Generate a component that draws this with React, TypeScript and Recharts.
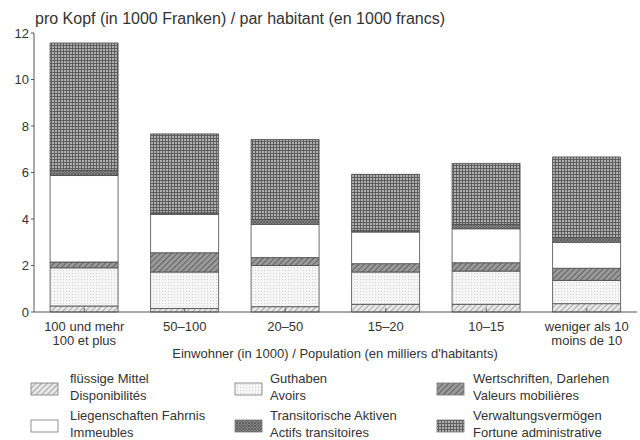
import React from "react";
import { BarChart, Bar, XAxis, YAxis } from "recharts";

const catLine1 = ["100 und mehr", "50–100", "20–50", "15–20", "10–15", "weniger als 10"];
const catLine2 = ["100 et plus", "", "", "", "", "moins de 10"];

const fluessig = [0.26, 0.15, 0.23, 0.33, 0.33, 0.36];
const guthaben = [1.64, 1.57, 1.77, 1.39, 1.43, 1.0];
const wertschriften = [0.25, 0.83, 0.34, 0.36, 0.36, 0.52];
const liegenschaften = [3.72, 1.65, 1.43, 1.36, 1.46, 1.12];
const transitorisch = [0.22, 0.07, 0.21, 0.06, 0.19, 0.2];
const verwaltung = [5.48, 3.39, 3.44, 2.42, 2.62, 3.47];

const yTicks = [0, 2, 4, 6, 8, 10, 12];

const seriesKeys = ["fluessig", "guthaben", "wertschriften", "liegenschaften", "transitorisch", "verwaltung"];
const seriesFill: Record<string, string> = {
  fluessig: "url(#pFluessig)",
  guthaben: "url(#pGuthaben)",
  wertschriften: "url(#pWert)",
  liegenschaften: "#ffffff",
  transitorisch: "url(#pTrans)",
  verwaltung: "url(#pVerw)",
};

const legendItems = [
  { key: "fluessig", l1: "flüssige Mittel", l2: "Disponibilités", col: 0, row: 0 },
  { key: "guthaben", l1: "Guthaben", l2: "Avoirs", col: 1, row: 0 },
  { key: "wertschriften", l1: "Wertschriften, Darlehen", l2: "Valeurs mobilières", col: 2, row: 0 },
  { key: "liegenschaften", l1: "Liegenschaften Fahrnis", l2: "Immeubles", col: 0, row: 1 },
  { key: "transitorisch", l1: "Transitorische Aktiven", l2: "Actifs transitoires", col: 1, row: 1 },
  { key: "verwaltung", l1: "Verwaltungsvermögen", l2: "Fortune administrative", col: 2, row: 1 },
];

const data = catLine1.map((c, i) => ({
  cat: c,
  idx: i,
  fluessig: fluessig[i],
  guthaben: guthaben[i],
  wertschriften: wertschriften[i],
  liegenschaften: liegenschaften[i],
  transitorisch: transitorisch[i],
  verwaltung: verwaltung[i],
}));

const FONT = "'Liberation Sans', Arial, sans-serif";
const TEXT = "#333";

const Patterns = () => (
  <svg width={0} height={0} style={{ position: "absolute" }}>
    <defs>
      <pattern id="pFluessig" width={4} height={4} patternUnits="userSpaceOnUse" patternTransform="rotate(45)">
        <rect width={4} height={4} fill="#e8e8e8" />
        <line x1={0} y1={0} x2={0} y2={4} stroke="#7a7a7a" strokeWidth={1.2} />
      </pattern>
      <pattern id="pGuthaben" width={3} height={3} patternUnits="userSpaceOnUse">
        <rect width={3} height={3} fill="#f6f6f6" />
        <rect x={0} y={0} width={1} height={1} fill="#cfcfcf" />
      </pattern>
      <pattern id="pWert" width={4} height={4} patternUnits="userSpaceOnUse" patternTransform="rotate(45)">
        <rect width={4} height={4} fill="#9a9a9a" />
        <line x1={0} y1={0} x2={0} y2={4} stroke="#4a4a4a" strokeWidth={1.4} />
      </pattern>
      <pattern id="pTrans" width={3} height={3} patternUnits="userSpaceOnUse">
        <rect width={3} height={3} fill="#8a8a8a" />
        <line x1={0} y1={0} x2={3} y2={3} stroke="#555" strokeWidth={0.8} />
        <line x1={3} y1={0} x2={0} y2={3} stroke="#555" strokeWidth={0.8} />
      </pattern>
      <pattern id="pVerw" width={3} height={3} patternUnits="userSpaceOnUse">
        <rect width={3} height={3} fill="#b0b0b0" />
        <line x1={0} y1={0.5} x2={3} y2={0.5} stroke="#5e5e5e" strokeWidth={1} />
        <line x1={0.5} y1={0} x2={0.5} y2={3} stroke="#5e5e5e" strokeWidth={1} />
      </pattern>
    </defs>
  </svg>
);

const XTick = (props: any) => {
  const { x, y, payload } = props;
  const i = payload.index ?? catLine1.indexOf(payload.value);
  return (
    <g>
      <text x={x} y={y + 21} textAnchor="middle" fontFamily={FONT} fontSize={13} fill={TEXT}>
        {catLine1[i]}
      </text>
      {catLine2[i] ? (
        <text x={x} y={y + 35} textAnchor="middle" fontFamily={FONT} fontSize={13} fill={TEXT}>
          {catLine2[i]}
        </text>
      ) : null}
    </g>
  );
};

export default function App() {
  return (
    <div style={{ position: "absolute", left: 0, top: 0, width: 640, height: 440, background: "#fff" }}>
      <Patterns />
      <BarChart
        width={640}
        height={440}
        data={data}
        margin={{ top: 33, right: 3, bottom: 88, left: 0 }}
        barCategoryGap="16%"
      >
        <XAxis
          dataKey="cat"
          tick={<XTick />}
          tickLine={{ stroke: "#555" }}
          tickSize={-4}
          axisLine={{ stroke: "#555" }}
          height={40}
          interval={0}
        />
        <XAxis xAxisId="top" orientation="top" dataKey="cat" tick={false} tickLine={false} axisLine={{ stroke: "#666" }} height={0} />
        <YAxis
          domain={[0, 12]}
          ticks={yTicks}
          width={34}
          tickSize={3}
          tickLine={{ stroke: "#555" }}
          axisLine={{ stroke: "#555" }}
          tick={{ fontFamily: FONT, fontSize: 13, fill: TEXT }}
          interval={0}
        />
        <YAxis yAxisId="right" orientation="right" domain={[0, 12]} tick={false} tickLine={false} axisLine={{ stroke: "#888" }} width={0} />
        {seriesKeys.map((k) => (
          <Bar
            key={k}
            dataKey={k}
            stackId="a"
            fill={seriesFill[k]}
            stroke="#4a4a4a"
            strokeWidth={0.8}
            isAnimationActive={false}
          />
        ))}
      </BarChart>
      <svg width={640} height={440} style={{ position: "absolute", left: 0, top: 0, pointerEvents: "none" }}>
        <text x={35} y={24} fontFamily={FONT} fontSize={16} fill={TEXT}>
          pro Kopf (in 1000 Franken) / par habitant (en 1000 francs)
        </text>
        <text x={335} y={358} textAnchor="middle" fontFamily={FONT} fontSize={13} fill={TEXT}>
          Einwohner (in 1000) / Population (en milliers d'habitants)
        </text>
        {legendItems.map((it) => {
          const sx = [31, 235, 437][it.col];
          const tx = [70, 270, 473][it.col];
          const ly = [379, 416][it.row];
          return (
            <g key={it.key}>
              <rect x={sx} y={ly + 4} width={27} height={12} fill={seriesFill[it.key]} stroke="#777" strokeWidth={0.8} />
              <text x={tx} y={ly + 4} fontFamily={FONT} fontSize={13} fill={TEXT}>{it.l1}</text>
              <text x={tx} y={ly + 21} fontFamily={FONT} fontSize={13} fill={TEXT}>{it.l2}</text>
            </g>
          );
        })}
      </svg>
    </div>
  );
}
